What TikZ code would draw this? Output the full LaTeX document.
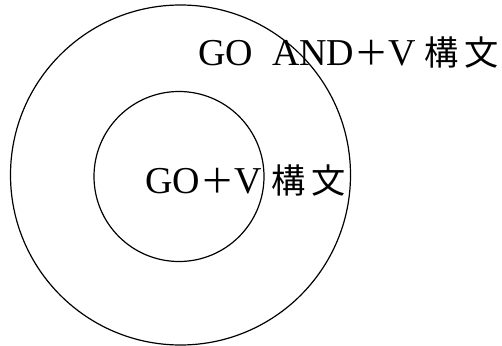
\documentclass[tikz,border=0pt]{standalone}
\usepackage{fontspec}
\setmainfont{Liberation Serif}
\newfontfamily\cjk[Scale=0.9]{Noto Sans CJK JP}
\begin{document}
\begin{tikzpicture}[x=1pt,y=-1pt,
  ring/.style={circle,draw,line width=1.2pt,inner sep=0pt},
  lab/.style={anchor=base west,inner sep=0pt,font=\fontsize{38}{42}\selectfont}]
\useasboundingbox (0,0) rectangle (502,345);
\node[ring,minimum size=340pt] (outer) at (180.5,175) {};
\node[ring,minimum size=170pt] (inner) at (179,176.5) {};
\node[lab] (outerlab) at (198,65) {GO\hspace{19pt}AND{\cjk ＋}V\hspace{8pt}{\cjk 構\hspace{6pt}文}};
\node[lab] (innerlab) at (145,193) {GO{\cjk ＋}V\hspace{10pt}{\cjk 構\hspace{6pt}文}};
\end{tikzpicture}
\end{document}
